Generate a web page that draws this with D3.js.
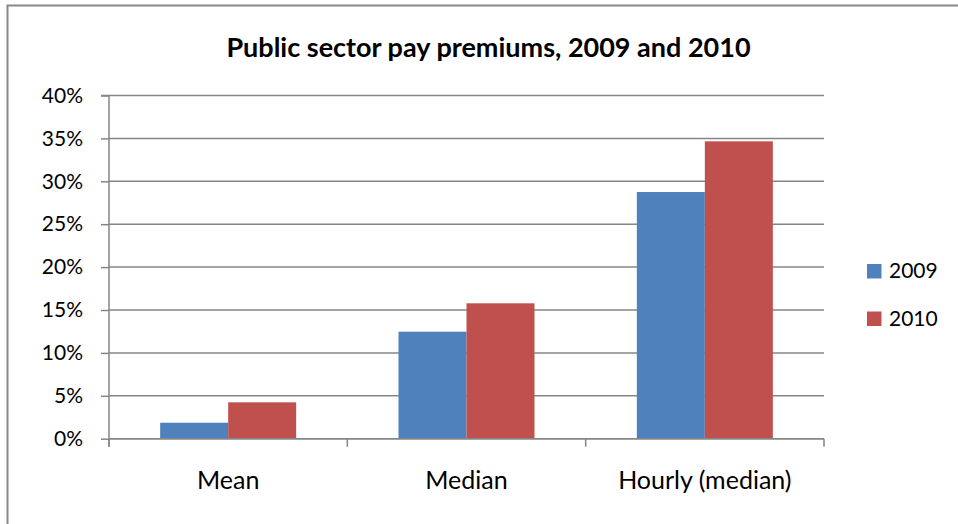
<!DOCTYPE html>
<html>
<head>
<meta charset="utf-8">
<script src="https://cdn.jsdelivr.net/npm/d3@7"></script>
<style>
  html, body { margin: 0; padding: 0; background: #fff; }
  svg { display: block; font-family: Lato, "Open Sans", sans-serif; }
</style>
</head>
<body>
<svg id="chart" width="958" height="524"></svg>
<script>
// Chart data
const categories = ["Mean", "Median", "Hourly (median)"];
const seriesNames = ["2009", "2010"];
const values2009 = [0.0186, 0.1247, 0.2875];
const values2010 = [0.0424, 0.1578, 0.3466];
const yTicks = [0, 0.05, 0.10, 0.15, 0.20, 0.25, 0.30, 0.35, 0.40];
const seriesColors = ["#4f81bd", "#c0504d"];
const titleText = "Public sector pay premiums, 2009 and 2010";

const seriesValues = [values2009, values2010];
const rows = categories.map((c, i) => ({
  category: c,
  values: seriesNames.map((s, j) => ({ series: s, value: seriesValues[j][i] }))
}));

const svg = d3.select("#chart");
const W = 958, H = 524;

// Chart frame
svg.append("rect")
  .attr("x", 7.5).attr("y", 5.5)
  .attr("width", W + 10).attr("height", H + 10)
  .attr("fill", "#fff")
  .attr("stroke", "#888").attr("stroke-width", 2);

const plot = { left: 109, right: 824, top: 95.5, bottom: 438.7 };

const x = d3.scaleBand()
  .domain(categories)
  .range([plot.left, plot.right])
  .paddingInner(0).paddingOuter(0);

const groupWidth = 136;
const xInner = d3.scaleBand()
  .domain(seriesNames)
  .range([0, groupWidth]);

const y = d3.scaleLinear()
  .domain([0, 0.40])
  .range([plot.bottom, plot.top]);

const gridColor = "#868686";

// Horizontal gridlines
svg.append("g")
  .selectAll("line")
  .data(yTicks)
  .join("line")
  .attr("x1", plot.left).attr("x2", plot.right)
  .attr("y1", d => y(d)).attr("y2", d => y(d))
  .attr("stroke", gridColor).attr("stroke-width", 1.5);

// Bars
const groups = svg.append("g")
  .selectAll("g")
  .data(rows)
  .join("g")
  .attr("transform", d => `translate(${x(d.category) + (x.bandwidth() - groupWidth) / 2},0)`);

groups.selectAll("rect")
  .data(d => d.values)
  .join("rect")
  .attr("x", d => xInner(d.series))
  .attr("width", xInner.bandwidth())
  .attr("y", d => y(d.value))
  .attr("height", d => y(0) - y(d.value))
  .attr("fill", (d, i) => seriesColors[i]);

// Y axis
const yAxis = d3.axisLeft(y)
  .tickValues(yTicks)
  .tickSize(8)
  .tickPadding(18)
  .tickFormat(d3.format(".0%"));

const gy = svg.append("g")
  .attr("transform", `translate(${plot.left},0)`)
  .call(yAxis);
gy.select(".domain").attr("stroke", gridColor).attr("stroke-width", 1.5)
  .attr("d", `M-8,${plot.top}H0V${plot.bottom + 8}`);
gy.selectAll(".tick line").attr("stroke", gridColor).attr("stroke-width", 1.5);
gy.selectAll(".tick text")
  .attr("font-family", "Lato, sans-serif")
  .attr("font-size", 21).attr("fill", "#000");

// X axis
const xAxis = d3.axisBottom(x).tickSize(0).tickPadding(32.5);
const gx = svg.append("g")
  .attr("transform", `translate(0,${plot.bottom})`)
  .call(xAxis);
gx.select(".domain").attr("stroke", gridColor).attr("stroke-width", 1.5)
  .attr("d", `M${plot.left},0H${plot.right}`);
gx.selectAll(".tick text")
  .attr("font-family", "Lato, sans-serif")
  .attr("font-size", 25).attr("fill", "#000");

// Category separator ticks
const boundaries = categories.map(c => x(c)).concat([x(categories[categories.length - 1]) + x.bandwidth()]);
svg.append("g")
  .selectAll("line")
  .data(boundaries)
  .join("line")
  .attr("x1", d => d).attr("x2", d => d)
  .attr("y1", plot.bottom).attr("y2", plot.bottom + 8)
  .attr("stroke", gridColor).attr("stroke-width", 1.5);

// Title
svg.append("text")
  .attr("x", 488.5).attr("y", 56.5)
  .attr("text-anchor", "middle")
  .attr("font-family", "Lato, sans-serif")
  .attr("font-weight", "bold")
  .attr("font-size", 27)
  .text(titleText);

// Legend
const legend = svg.append("g")
  .selectAll("g")
  .data(seriesNames)
  .join("g")
  .attr("transform", (d, i) => `translate(867,${264 + i * 47.5})`);
legend.append("rect")
  .attr("width", 14.5).attr("height", 14.5)
  .attr("fill", (d, i) => seriesColors[i]);
legend.append("text")
  .attr("x", 22).attr("y", 14)
  .attr("font-family", "Lato, sans-serif")
  .attr("font-size", 21)
  .text(d => d);
</script>
</body>
</html>
